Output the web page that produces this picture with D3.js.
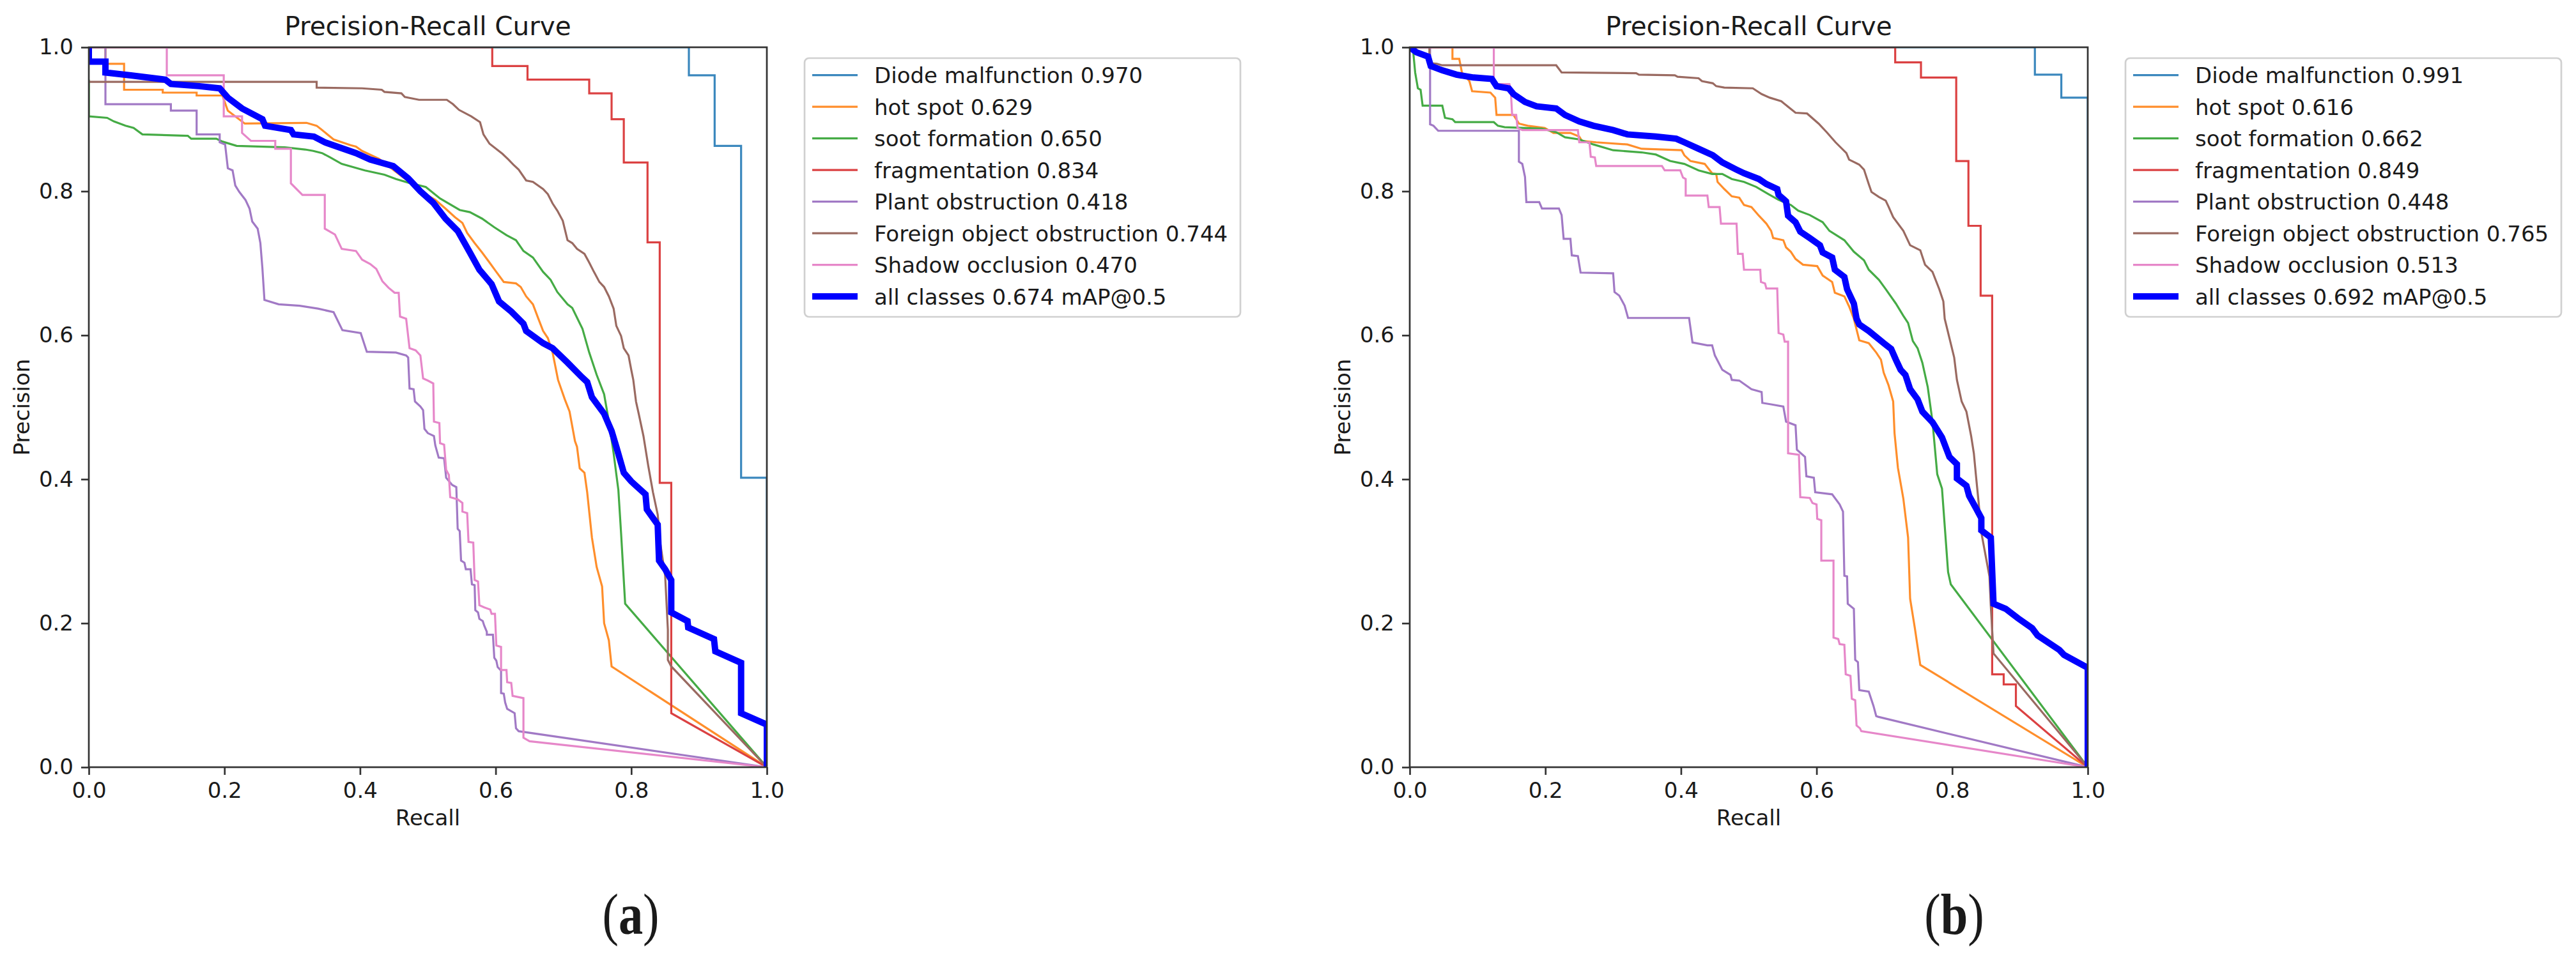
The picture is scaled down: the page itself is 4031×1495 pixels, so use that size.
<!DOCTYPE html>
<html>
<head>
<meta charset="utf-8">
<script src="https://cdn.jsdelivr.net/npm/d3@7"></script>
<style>
  html, body { margin: 0; padding: 0; background: #fff; }
  svg { display: block; }
  text { font-family: "DejaVu Sans", sans-serif; fill: #1a1a1a; }
  .panel-tag { font-family: "Liberation Serif", "Times New Roman", serif; }
</style>
</head>
<body>
<div id="chart"></div>
<script>
// PR curve values (recall, precision)
const classNames = ['Diode malfunction', 'hot spot', 'soot formation', 'fragmentation',
    'Plant obstruction', 'Foreign object obstruction', 'Shadow occlusion'];
const classColors = ['#1f77b4', '#ff7f0e', '#2ca02c', '#d62728', '#9467bd', '#8c564b', '#e377c2'];
const apA = [0.970, 0.629, 0.650, 0.834, 0.418, 0.744, 0.470];
const apB = [0.991, 0.616, 0.662, 0.849, 0.448, 0.765, 0.513];
const mapA = 0.674;
const mapB = 0.692;
const axisTicks = [0, 0.2, 0.4, 0.6, 0.8, 1.0];

// panel (a)
const diodeA = [[0,1],[.885,1],[.885,.961],[.923,.961],[.923,.863],[.962,.863],[.962,.402],[1,.402],[1,0]];
const hotSpotA = [[0,1],[.0245,1],[.0245,.977],[.052,.977],[.052,.941],[.109,.941],[.109,.937],[.159,.937],[.159,.933],[.197,.933],[.205,.912],[.230,.894],[.321,.895],[.336,.891],[.344,.885],[.361,.872],[.386,.864],[.394,.862],[.403,.856],[.428,.845],[.464,.819],[.500,.794],[.511,.788],[.526,.776],[.540,.764],[.551,.756],[.558,.742],[.569,.728],[.580,.715],[.591,.701],[.601,.688],[.612,.674],[.630,.672],[.637,.667],[.645,.654],[.655,.643],[.663,.623],[.670,.606],[.677,.596],[.684,.576],[.692,.538],[.702,.511],[.709,.494],[.717,.453],[.720,.445],[.724,.415],[.731,.409],[.735,.382],[.742,.319],[.749,.278],[.757,.251],[.760,.200],[.767,.176],[.771,.140],[1,0]];
const sootA = [[0,.955],[0,.904],[.027,.902],[.037,.897],[.054,.891],[.066,.888],[.079,.879],[.146,.877],[.151,.873],[.188,.873],[.197,.869],[.218,.863],[.289,.861],[.319,.858],[.331,.856],[.344,.853],[.356,.847],[.373,.838],[.407,.829],[.436,.823],[.453,.817],[.471,.812],[.497,.806],[.518,.790],[.547,.774],[.562,.771],[.580,.762],[.598,.750],[.616,.739],[.630,.732],[.641,.717],[.655,.708],[.670,.688],[.681,.677],[.691,.660],[.706,.643],[.713,.638],[.728,.609],[.738,.576],[.749,.545],[.760,.518],[.767,.480],[.774,.436],[.781,.385],[.785,.325],[.791,.227],[1,0]];
const fragA = [[0,1],[.595,1],[.595,.974],[.647,.974],[.647,.955],[.738,.955],[.738,.936],[.771,.936],[.771,.900],[.789,.900],[.789,.840],[.824,.840],[.824,.729],[.842,.729],[.842,.395],[.859,.395],[.859,.075],[1,0]];
const plantA = [[0,1],[.0245,1],[.0245,.921],[.121,.921],[.121,.912],[.159,.912],[.159,.879],[.193,.879],[.193,.868],[.201,.865],[.205,.832],[.212,.829],[.216,.808],[.222,.799],[.231,.788],[.237,.776],[.241,.758],[.249,.748],[.253,.728],[.256,.693],[.259,.649],[.280,.643],[.311,.641],[.338,.637],[.361,.632],[.374,.607],[.401,.603],[.410,.577],[.453,.576],[.468,.572],[.471,.569],[.473,.526],[.479,.525],[.481,.508],[.489,.501],[.493,.496],[.495,.470],[.500,.464],[.509,.460],[.511,.447],[.516,.430],[.524,.429],[.527,.402],[.536,.392],[.542,.389],[.544,.331],[.547,.328],[.549,.287],[.554,.284],[.556,.275],[.563,.275],[.565,.254],[.569,.253],[.570,.218],[.574,.215],[.576,.206],[.581,.203],[.583,.197],[.587,.188],[.587,.184],[.596,.184],[.598,.152],[.601,.148],[.603,.139],[.608,.134],[.608,.103],[.612,.102],[.614,.090],[.617,.081],[.628,.075],[.630,.054],[.634,.050],[1,0]];
const foreignA = [[0,.952],[.336,.952],[.336,.944],[.403,.943],[.432,.941],[.436,.938],[.461,.936],[.466,.931],[.487,.927],[.528,.927],[.537,.921],[.546,.913],[.564,.904],[.577,.896],[.582,.879],[.591,.866],[.610,.852],[.619,.844],[.626,.837],[.634,.830],[.645,.815],[.655,.813],[.670,.803],[.677,.796],[.684,.783],[.691,.773],[.699,.759],[.706,.732],[.713,.728],[.720,.720],[.731,.713],[.738,.701],[.745,.688],[.753,.674],[.760,.667],[.767,.654],[.774,.637],[.778,.613],[.785,.599],[.789,.582],[.796,.572],[.800,.552],[.803,.538],[.807,.508],[.811,.491],[.818,.460],[.825,.419],[.832,.382],[.839,.351],[.843,.310],[.850,.266],[.854,.191],[.854,.149],[.859,.140],[1,0]];
const shadowA = [[0,1],[.115,1],[.115,.961],[.199,.961],[.199,.904],[.226,.904],[.226,.881],[.239,.870],[.275,.870],[.275,.859],[.298,.859],[.298,.811],[.315,.795],[.348,.795],[.348,.748],[.363,.740],[.373,.720],[.394,.717],[.403,.705],[.415,.699],[.424,.692],[.433,.675],[.442,.666],[.451,.659],[.457,.659],[.459,.626],[.468,.623],[.473,.582],[.482,.579],[.489,.572],[.493,.540],[.500,.537],[.508,.533],[.509,.480],[.517,.478],[.518,.450],[.524,.448],[.527,.413],[.531,.406],[.533,.375],[.544,.372],[.551,.367],[.551,.355],[.558,.353],[.560,.313],[.567,.312],[.569,.260],[.574,.258],[.576,.225],[.583,.222],[.592,.219],[.594,.213],[.599,.213],[.601,.169],[.608,.167],[.608,.135],[.616,.135],[.617,.118],[.623,.117],[.625,.099],[.641,.096],[.641,.041],[.650,.036],[1,0]];
const allA = [[0,1],[0,.98],[.0245,.98],[.0245,.965],[.062,.961],[.113,.955],[.121,.949],[.163,.946],[.193,.943],[.205,.930],[.226,.915],[.256,.900],[.260,.891],[.298,.885],[.302,.879],[.332,.876],[.348,.868],[.394,.853],[.415,.844],[.449,.835],[.471,.818],[.489,.800],[.508,.784],[.526,.762],[.544,.745],[.562,.715],[.576,.691],[.594,.671],[.605,.647],[.623,.633],[.641,.616],[.645,.606],[.670,.589],[.684,.582],[.706,.562],[.727,.542],[.735,.535],[.742,.514],[.760,.491],[.771,.467],[.778,.445],[.789,.409],[.800,.397],[.821,.379],[.823,.358],[.839,.337],[.841,.287],[.850,.275],[.859,.260],[.859,.215],[.883,.203],[.884,.194],[.922,.178],[.924,.161],[.962,.145],[.962,.075],[.998,.060],[1,.060],[1,0]];

// panel (b)
const diodeB = [[0,1],[.922,1],[.922,.962],[.961,.962],[.961,.930],[1,.930],[1,0]];
const hotSpotB = [[0,1],[.063,1],[.063,.984],[.073,.984],[.077,.965],[.088,.953],[.092,.939],[.119,.937],[.126,.930],[.128,.906],[.153,.906],[.161,.894],[.174,.891],[.199,.888],[.212,.881],[.237,.881],[.250,.876],[.254,.870],[.275,.868],[.321,.865],[.342,.859],[.401,.857],[.405,.850],[.414,.842],[.435,.838],[.446,.825],[.452,.824],[.454,.813],[.464,.803],[.475,.793],[.486,.791],[.493,.781],[.504,.778],[.515,.766],[.526,.755],[.533,.745],[.536,.735],[.551,.732],[.555,.722],[.562,.716],[.569,.706],[.580,.698],[.601,.696],[.609,.683],[.623,.674],[.627,.659],[.641,.654],[.648,.640],[.655,.623],[.663,.593],[.677,.589],[.688,.576],[.695,.566],[.699,.548],[.706,.531],[.713,.508],[.715,.464],[.720,.416],[.728,.373],[.735,.319],[.738,.234],[.745,.193],[.753,.142],[1,0]];
const sootB = [[0,1],[.005,.995],[.008,.965],[.012,.943],[.016,.941],[.019,.919],[.048,.919],[.052,.902],[.063,.900],[.067,.896],[.124,.896],[.130,.891],[.140,.889],[.195,.887],[.216,.882],[.229,.875],[.250,.872],[.271,.865],[.300,.857],[.342,.854],[.363,.851],[.384,.842],[.405,.838],[.426,.829],[.446,.824],[.461,.824],[.475,.817],[.493,.813],[.511,.806],[.529,.796],[.544,.788],[.562,.781],[.573,.773],[.590,.767],[.609,.757],[.619,.745],[.641,.732],[.655,.716],[.670,.704],[.677,.691],[.692,.677],[.702,.664],[.717,.644],[.728,.627],[.735,.617],[.742,.592],[.749,.582],[.756,.562],[.764,.528],[.771,.480],[.778,.407],[.785,.387],[.794,.271],[.798,.254],[1,0]];
const fragB = [[0,1],[.716,1],[.716,.979],[.754,.979],[.754,.958],[.806,.958],[.806,.842],[.824,.842],[.824,.752],[.842,.752],[.842,.655],[.859,.655],[.859,.129],[.876,.129],[.876,.115],[.894,.115],[.894,.085],[1,0]];
const plantB = [[0,1],[.030,1],[.030,.893],[.035,.891],[.042,.884],[.161,.884],[.161,.841],[.166,.838],[.170,.820],[.172,.785],[.191,.785],[.195,.776],[.220,.776],[.224,.767],[.227,.734],[.237,.734],[.239,.711],[.248,.710],[.252,.687],[.300,.686],[.302,.660],[.309,.655],[.317,.641],[.322,.624],[.412,.624],[.417,.590],[.439,.586],[.446,.586],[.450,.572],[.461,.552],[.473,.545],[.475,.538],[.486,.537],[.504,.525],[.519,.521],[.520,.506],[.533,.504],[.551,.501],[.555,.480],[.569,.475],[.571,.441],[.583,.431],[.585,.404],[.596,.402],[.598,.382],[.623,.379],[.634,.365],[.639,.355],[.641,.266],[.645,.265],[.646,.227],[.655,.220],[.657,.149],[.661,.146],[.663,.107],[.677,.105],[.684,.085],[.688,.071],[.691,.070],[1,0]];
const foreignB = [[0,1],[.029,1],[.029,.978],[.040,.977],[.048,.975],[.216,.975],[.224,.965],[.334,.964],[.338,.962],[.391,.961],[.395,.959],[.426,.957],[.431,.953],[.447,.950],[.452,.946],[.464,.944],[.506,.943],[.519,.935],[.531,.930],[.548,.925],[.569,.909],[.586,.908],[.603,.894],[.615,.882],[.628,.868],[.644,.853],[.648,.844],[.663,.837],[.670,.830],[.677,.810],[.681,.799],[.692,.792],[.702,.787],[.706,.779],[.713,.764],[.728,.745],[.738,.725],[.753,.718],[.760,.698],[.771,.688],[.781,.664],[.787,.647],[.789,.623],[.796,.596],[.803,.569],[.807,.538],[.814,.508],[.821,.494],[.828,.460],[.832,.436],[.835,.406],[.839,.368],[.843,.326],[.855,.265],[.857,.224],[.861,.158],[1,0]];
const shadowB = [[0,1],[.124,1],[.124,.949],[.147,.949],[.149,.941],[.151,.906],[.157,.906],[.159,.888],[.166,.885],[.248,.885],[.250,.868],[.265,.868],[.267,.848],[.273,.847],[.275,.835],[.372,.835],[.376,.829],[.399,.829],[.403,.819],[.407,.817],[.407,.794],[.439,.794],[.441,.778],[.457,.778],[.459,.755],[.482,.755],[.484,.713],[.491,.713],[.493,.691],[.517,.691],[.518,.674],[.524,.672],[.526,.665],[.542,.665],[.544,.603],[.551,.601],[.553,.591],[.558,.591],[.558,.436],[.574,.434],[.576,.375],[.590,.374],[.594,.367],[.600,.365],[.601,.345],[.607,.343],[.607,.287],[.625,.287],[.625,.180],[.632,.178],[.634,.171],[.641,.170],[.643,.129],[.650,.127],[.652,.095],[.657,.093],[.659,.058],[.664,.054],[.666,.050],[1,0]];
const allB = [[0,1],[.010,.993],[.027,.987],[.031,.974],[.048,.968],[.069,.962],[.094,.958],[.121,.956],[.128,.946],[.146,.943],[.153,.935],[.170,.924],[.187,.918],[.216,.915],[.229,.906],[.250,.897],[.271,.891],[.300,.885],[.321,.879],[.363,.876],[.393,.873],[.405,.868],[.426,.859],[.447,.850],[.461,.840],[.482,.830],[.493,.825],[.515,.817],[.526,.810],[.542,.803],[.544,.795],[.555,.786],[.558,.766],[.569,.757],[.576,.744],[.590,.735],[.605,.725],[.609,.715],[.623,.708],[.627,.691],[.641,.681],[.645,.664],[.655,.644],[.659,.623],[.663,.615],[.677,.606],[.699,.589],[.710,.581],[.717,.566],[.724,.552],[.731,.545],[.738,.525],[.749,.511],[.756,.494],[.771,.479],[.785,.458],[.796,.431],[.807,.421],[.807,.401],[.821,.391],[.825,.377],[.835,.360],[.843,.346],[.843,.329],[.857,.319],[.861,.227],[.879,.220],[.897,.207],[.918,.193],[.926,.183],[.958,.163],[.965,.156],[.998,.139],[1,.139],[1,0]];

// layout (pixels)
const W = 4031, H = 1495;
const plotW = 1061, plotH = 1127;
const fontSize = 34;

// thin lines read a little lighter in the scanned figure
const lineColors = classColors.map(c => d3.interpolateRgb(c, '#ffffff')(0.12));

const svg = d3.select('#chart').append('svg')
    .attr('width', W)
    .attr('height', H)
    .attr('viewBox', `0 0 ${W} ${H}`);

svg.append('rect').attr('width', W).attr('height', H).attr('fill', '#fff');

function drawPanel(opts) {
    const g = svg.append('g')
        .attr('transform', `translate(${opts.left},${opts.top})`);

    const x = d3.scaleLinear().domain([0, 1]).range([0, plotW]);
    const y = d3.scaleLinear().domain([0, 1]).range([plotH, 0]);

    // Clip curves to the axes box
    g.append('defs').append('clipPath')
        .attr('id', opts.id + '-clip')
        .append('rect')
        .attr('width', plotW)
        .attr('height', plotH);

    const line = d3.line()
        .x(d => x(d[0]))
        .y(d => y(d[1]));

    const body = g.append('g').attr('clip-path', `url(#${opts.id}-clip)`);

    body.selectAll('.pr-line')
        .data(opts.series)
        .enter()
        .append('path')
        .attr('class', 'pr-line')
        .attr('d', d => line(d))
        .attr('fill', 'none')
        .attr('stroke', (d, i) => lineColors[i])
        .attr('stroke-width', 3.2)
        .attr('stroke-linejoin', 'miter');

    body.append('path')
        .attr('d', line(opts.all))
        .attr('fill', 'none')
        .attr('stroke', '#0000ff')
        .attr('stroke-width', 10)
        .attr('stroke-linejoin', 'miter');

    // Axes
    const xAxis = g.append('g')
        .attr('transform', `translate(0,${plotH})`)
        .call(d3.axisBottom(x)
            .tickValues(axisTicks)
            .tickFormat(d3.format('.1f'))
            .tickSize(12)
            .tickPadding(12)
            .tickSizeOuter(0));

    const yAxis = g.append('g')
        .call(d3.axisLeft(y)
            .tickValues(axisTicks)
            .tickFormat(d3.format('.1f'))
            .tickSize(12)
            .tickPadding(12)
            .tickSizeOuter(0));

    [xAxis, yAxis].forEach(ax => {
        ax.attr('font-size', null).attr('font-family', null).attr('color', '#333');
        ax.select('.domain').remove();
        ax.selectAll('.tick line').attr('stroke-width', 2.7);
        ax.selectAll('.tick text')
            .style('font-size', fontSize + 'px')
            .attr('fill', '#1a1a1a');
    });

    // Spines
    g.append('rect')
        .attr('width', plotW)
        .attr('height', plotH)
        .attr('fill', 'none')
        .attr('stroke', '#333')
        .attr('stroke-width', 2.7);

    // Title and axis labels
    g.append('text')
        .attr('x', plotW / 2)
        .attr('y', -19)
        .attr('text-anchor', 'middle')
        .style('font-size', '40.5px')
        .text('Precision-Recall Curve');

    g.append('text')
        .attr('x', plotW / 2)
        .attr('y', plotH + 91)
        .attr('text-anchor', 'middle')
        .style('font-size', fontSize + 'px')
        .text('Recall');

    g.append('text')
        .attr('transform', `translate(-93,${plotH / 2}) rotate(-90)`)
        .attr('text-anchor', 'middle')
        .style('font-size', fontSize + 'px')
        .text('Precision');

    // Legend
    const legend = g.append('g')
        .attr('transform', `translate(${plotW + 59},${91 - opts.top})`);

    legend.append('rect')
        .attr('width', 682)
        .attr('height', 405)
        .attr('rx', 7)
        .attr('fill', '#fff')
        .attr('fill-opacity', 0.8)
        .attr('stroke', '#d0d0d0')
        .attr('stroke-width', 2.7);

    const labels = classNames.map((n, i) => `${n} ${opts.ap[i].toFixed(3)}`);
    labels.push(`all classes ${opts.map.toFixed(3)} mAP@0.5`);

    labels.forEach((label, i) => {
        const cy = 26.6 + i * 49.5;
        legend.append('line')
            .attr('x1', 12)
            .attr('x2', 83)
            .attr('y1', cy)
            .attr('y2', cy)
            .attr('stroke', i < lineColors.length ? lineColors[i] : '#0000ff')
            .attr('stroke-width', i < lineColors.length ? 3.2 : 10);

        legend.append('text')
            .attr('x', 109)
            .attr('y', cy + 12.4)
            .style('font-size', fontSize + 'px')
            .text(label);
    });

    // Panel tag: (a) / (b), slightly condensed like the original
    const tag = svg.append('g')
        .attr('transform', `translate(${opts.tagX},1462) scale(0.85,1)`)
        .append('text')
        .attr('class', 'panel-tag')
        .attr('text-anchor', 'middle')
        .style('font-size', '90px');
    tag.append('tspan').text('(');
    tag.append('tspan').attr('font-weight', 'bold').text(opts.tag);
    tag.append('tspan').text(')');
}

drawPanel({
    id: 'pa', left: 139, top: 74, tagX: 987, tag: 'a',
    series: [diodeA, hotSpotA, sootA, fragA, plantA, foreignA, shadowA],
    all: allA, ap: apA, map: mapA
});

drawPanel({
    id: 'pb', left: 2206, top: 74, tagX: 3058, tag: 'b',
    series: [diodeB, hotSpotB, sootB, fragB, plantB, foreignB, shadowB],
    all: allB, ap: apB, map: mapB
});
</script>
</body>
</html>
